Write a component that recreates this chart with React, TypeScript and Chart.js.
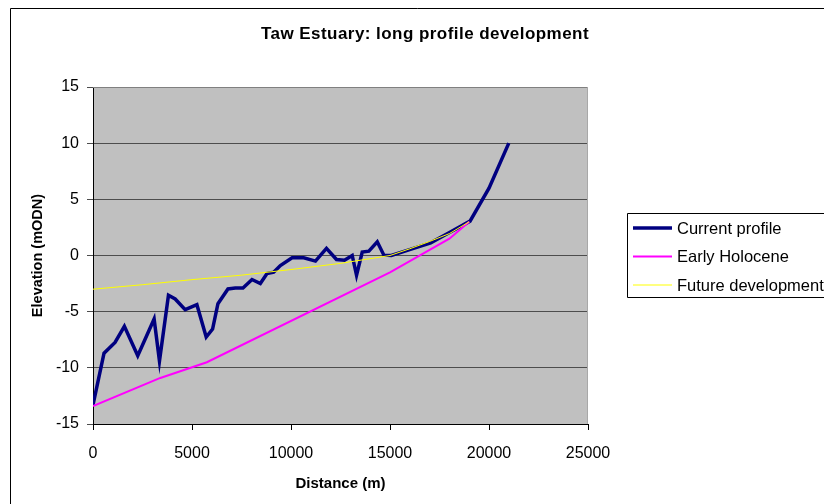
import React, { useEffect, useRef } from "react";
import { Chart, registerables } from "chart.js";

Chart.register(...registerables);

const TITLE = "Taw Estuary: long profile development";
const X_TITLE = "Distance (m)";
const Y_TITLE = "Elevation (mODN)";
const SERIES_NAMES = ["Current profile", "Early Holocene", "Future development"];
const SERIES_COLORS = ["#000080", "#FF00FF", "#FFFF00"];

const X_TICKS = [0, 5000, 10000, 15000, 20000, 25000];
const Y_TICKS = [-15, -10, -5, 0, 5, 10, 15];

const currentDist = [
  0, 557, 1113, 1585, 2260, 3087, 3357, 3811, 4150, 4656, 5247, 5718, 6040, 6310, 6816, 7186,
  7574, 8030, 8451, 8789, 9125, 9463, 10055, 10643, 11235, 11791, 12297, 12702, 13092, 13310,
  13598, 13932, 14357, 14691, 15066, 16032, 17055, 17980, 19043, 20000, 21000,
];
const currentElev = [
  -13.3, -8.7, -7.74, -6.3, -8.93, -5.65, -9.4, -3.54, -3.87, -4.82, -4.38, -7.26, -6.55, -4.29,
  -2.98, -2.9, -2.9, -2.14, -2.5, -1.6, -1.49, -0.89, -0.21, -0.21, -0.5, 0.63, -0.36, -0.42, 0,
  -1.76, 0.3, 0.39, 1.22, 0.03, 0, 0.54, 1.13, 2.03, 3.06, 6, 10,
];

const earlyDist = [0, 3400, 5750, 15000, 18000, 19000];
const earlyElev = [-13.4, -10.9, -9.5, -1.5, 1.5, 3.0];

const futureDist = [0, 2500, 5000, 7500, 10000, 12500, 15000, 16000, 17000, 18000, 19000];
const futureElev = [-3, -2.6, -2.15, -1.75, -1.25, -0.7, 0, 0.6, 1.25, 1.95, 3.0];

const FONT = "'Liberation Sans', Arial, sans-serif";

const toPoints = (xs: number[], ys: number[]) => xs.map((x, i) => ({ x, y: ys[i] }));

const decorPlugin = {
  id: "decor",
  beforeDraw(chart: any) {
    const { ctx, chartArea: a } = chart;
    ctx.save();
    ctx.fillStyle = "#ffffff";
    ctx.fillRect(0, 0, chart.width, chart.height);
    ctx.fillStyle = "#C0C0C0";
    ctx.fillRect(a.left, a.top, a.right - a.left, a.bottom - a.top);
    ctx.restore();
  },
  beforeDatasetsDraw(chart: any) {
    const { ctx, chartArea: a } = chart;
    ctx.save();
    ctx.lineWidth = 1;
    ctx.strokeStyle = "#808080";
    ctx.beginPath();
    ctx.moveTo(a.left, a.top + 0.5);
    ctx.lineTo(a.right, a.top + 0.5);
    ctx.stroke();
    ctx.strokeStyle = "#a8a8a8";
    ctx.beginPath();
    ctx.moveTo(a.right - 0.5, a.top);
    ctx.lineTo(a.right - 0.5, a.bottom);
    ctx.stroke();
    ctx.restore();
  },
  afterDraw(chart: any) {
    const { ctx } = chart;
    ctx.save();
    // outer chart border (right/bottom edges lie outside the crop)
    ctx.strokeStyle = "#000";
    ctx.lineWidth = 1;
    ctx.beginPath();
    ctx.moveTo(10.5, chart.height);
    ctx.lineTo(10.5, 8.5);
    ctx.lineTo(chart.width, 8.5);
    ctx.stroke();

    // title
    ctx.fillStyle = "#000";
    ctx.font = `bold 17px ${FONT}`;
    (ctx as any).letterSpacing = "0.45px";
    ctx.textAlign = "center";
    ctx.textBaseline = "alphabetic";
    ctx.fillText(TITLE, 425, 39);
    (ctx as any).letterSpacing = "0px";

    // legend
    const boxL = 627.5;
    const boxT = 213.5;
    const boxB = 297.5;
    ctx.strokeStyle = "#000";
    ctx.beginPath();
    ctx.moveTo(chart.width + 5, boxT);
    ctx.lineTo(boxL, boxT);
    ctx.lineTo(boxL, boxB);
    ctx.lineTo(chart.width + 5, boxB);
    ctx.stroke();
    ctx.font = `16.5px ${FONT}`;
    ctx.textAlign = "left";
    ctx.textBaseline = "middle";
    chart.data.datasets.forEach((ds: any, i: number) => {
      const y = 228 + i * 28.5;
      ctx.strokeStyle = ds.borderColor;
      ctx.lineWidth = ds.borderWidth;
      ctx.beginPath();
      ctx.moveTo(633, y);
      ctx.lineTo(672, y);
      ctx.stroke();
      ctx.fillStyle = "#000";
      ctx.fillText(ds.label, 677, y + 1);
    });
    ctx.restore();
  },
};

export default function App() {
  const ref = useRef<HTMLCanvasElement | null>(null);
  useEffect(() => {
    if (!ref.current) return;
    const chart = new Chart(ref.current, {
      type: "line",
      data: {
        datasets: [
          {
            label: SERIES_NAMES[0],
            data: toPoints(currentDist, currentElev),
            borderColor: SERIES_COLORS[0],
            borderWidth: 3.5,
            pointRadius: 0,
            tension: 0,
            order: 3,
          },
          {
            label: SERIES_NAMES[1],
            data: toPoints(earlyDist, earlyElev),
            borderColor: SERIES_COLORS[1],
            borderWidth: 2,
            pointRadius: 0,
            tension: 0,
            order: 2,
          },
          {
            label: SERIES_NAMES[2],
            data: toPoints(futureDist, futureElev),
            borderColor: SERIES_COLORS[2],
            borderWidth: 1,
            pointRadius: 0,
            tension: 0,
            order: 1,
          },
        ],
      },
      options: {
        responsive: false,
        animation: false,
        events: [],
        layout: { padding: { left: 10, right: 236, top: 87, bottom: 0 } },
        plugins: { legend: { display: false }, title: { display: false }, tooltip: { enabled: false } },
        scales: {
          x: {
            type: "linear",
            min: 0,
            max: 25000,
            afterFit: (s: any) => {
              s.height = 80;
            },
            afterBuildTicks: (s: any) => {
              s.ticks = X_TICKS.map((v) => ({ value: v }));
            },
            ticks: {
              color: "#000",
              font: { family: FONT, size: 16 },
              padding: 14,
              maxRotation: 0,
              callback: (v: any) => String(v),
            },
            grid: { drawOnChartArea: false, drawTicks: true, tickLength: 6, color: "#000" },
            border: { color: "#000", width: 1 },
            title: {
              display: true,
              text: X_TITLE,
              color: "#000",
              font: { family: FONT, size: 15, weight: "bold" },
              padding: { top: 0, bottom: 11.6 },
            },
          },
          y: {
            type: "linear",
            min: -15,
            max: 15,
            afterFit: (s: any) => {
              s.width = 83;
            },
            afterBuildTicks: (s: any) => {
              s.ticks = Y_TICKS.map((v) => ({ value: v }));
            },
            ticks: { color: "#000", font: { family: FONT, size: 16 }, padding: 8, callback: (v: any) => String(v) },
            grid: { color: "#4d4d4d", drawTicks: true, tickLength: 6 },
            border: { color: "#000", width: 1 },
            title: {
              display: true,
              text: Y_TITLE,
              color: "#000",
              font: { family: FONT, size: 14.5, weight: "bold" },
              padding: { top: 19, bottom: 0 },
            },
          },
        },
      },
      plugins: [decorPlugin],
    } as any);
    return () => chart.destroy();
  }, []);
  return (
    <div style={{ position: "absolute", left: 0, top: 0, width: 824, height: 504 }}>
      <canvas ref={ref} width={824} height={504} />
    </div>
  );
}
